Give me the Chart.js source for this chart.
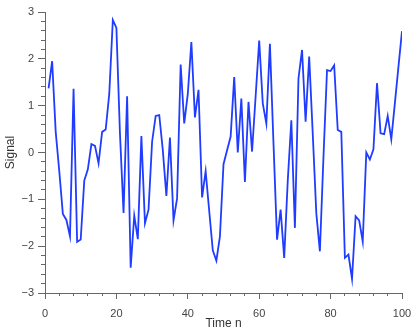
<!DOCTYPE html>
<html>
<head>
<meta charset="utf-8">
<script src="https://cdn.jsdelivr.net/npm/chart.js@4.4.1/dist/chart.umd.min.js"></script>
<style>
  html, body { margin:0; padding:0; background:#fff; }
  #wrap { width:415px; height:332px; position:relative; }
</style>
</head>
<body>
<div id="wrap"><canvas id="chart"></canvas></div>
<script>

// time index n
const timeN = [
  1,2,3,4,5,6,7,8,9,10,
  11,12,13,14,15,16,17,18,19,20,
  21,22,23,24,25,26,27,28,29,30,
  31,32,33,34,35,36,37,38,39,40,
  41,42,43,44,45,46,47,48,49,50,
  51,52,53,54,55,56,57,58,59,60,
  61,62,63,64,65,66,67,68,69,70,
  71,72,73,74,75,76,77,78,79,80,
  81,82,83,84,85,86,87,88,89,90,
  91,92,93,94,95,96,97,98,99,100
];

// signal values
const signal = [
  1.37, 1.95, 0.44, -0.40, -1.31, -1.44, -1.79, 1.36, -1.91, -1.86,
  -0.60, -0.36, 0.18, 0.14, -0.23, 0.44, 0.49, 1.25, 2.83, 2.66,
  0.40, -1.29, 1.20, -2.46, -1.35, -1.85, 0.35, -1.51, -1.22, 0.23,
  0.78, 0.80, 0.05, -0.93, 0.32, -1.45, -0.98, 1.88, 0.62, 1.25,
  2.36, 0.75, 1.34, -0.96, -0.40, -1.25, -2.09, -2.31, -1.79, -0.25,
  0.05, 0.34, 1.61, 0.00, 1.15, -0.63, 1.08, 0.02, 1.20, 2.39,
  1.05, 0.62, 2.32, 0.20, -1.86, -1.22, -2.25, -0.60, 0.69, -1.61,
  1.58, 2.19, 0.66, 2.05, 0.40, -1.30, -2.11, -0.10, 1.76, 1.74,
  1.86, 0.48, 0.44, -2.25, -2.18, -2.70, -1.36, -1.45, -1.90, 0.00,
  -0.15, 0.07, 1.48, 0.41, 0.39, 0.78, 0.28, 1.05, 1.83, 2.59
];

// axis ticks
const xMajor = 20;
const xMinor = 4;
const yMajor = 1;
const yMinor = 0.2;

const axisColor = '#666';
const labelColor = '#444';
const fontFamily = '"Liberation Sans", Arial, sans-serif';

function minus(v){
  return v < 0 ? '\u2212' + Math.abs(v) : String(v);
}

function fixSize(prop, size){
  return function(scale){
    scale[prop] = size;
    scale.paddingLeft = 0;
    scale.paddingRight = 0;
    scale.paddingTop = 0;
    scale.paddingBottom = 0;
  };
}

const points = timeN.map((n,i)=>({ x:n, y:signal[i] }));

new Chart(document.getElementById('chart'), {

  type:'line',

  data:{
    datasets:[{
      data:points,
      borderColor:'#1f3cff',
      borderWidth:1.8,
      pointRadius:0,
      tension:0,
      fill:false
    }]
  },

  options:{
    responsive:true,
    maintainAspectRatio:false,
    animation:false,
    layout:{
      padding:{ top:12, right:13, bottom:0, left:0 }
    },
    plugins:{
      legend:{ display:false },
      tooltip:{ enabled:false }
    },
    scales:{

      x:{
        type:'linear',
        position:'bottom',
        weight:1,
        min:0,
        max:100,
        border:{ display:true, color:axisColor, width:1 },
        grid:{ drawOnChartArea:false, drawTicks:true, tickLength:6, color:axisColor },
        ticks:{
          stepSize:xMajor,
          color:labelColor,
          padding:8,
          font:{ family:fontFamily, size:11 },
          callback:v=>minus(v),
          maxRotation:0,
          autoSkip:false
        },
        title:{
          display:true,
          text:'Time n',
          color:'#333',
          font:{ family:fontFamily, size:12 },
          padding:{ top:0, bottom:1 }
        },
        afterFit:fixSize('height', 39)
      },

      xMinor:{
        type:'linear',
        position:'bottom',
        weight:0,
        min:0,
        max:100,
        border:{ display:false },
        grid:{ drawOnChartArea:false, drawTicks:true, tickLength:3, color:axisColor },
        ticks:{ stepSize:xMinor, display:false, autoSkip:false, maxTicksLimit:100 },
        afterFit:fixSize('height', 0)
      },

      y:{
        type:'linear',
        position:'left',
        weight:1,
        min:-3,
        max:3,
        border:{ display:true, color:axisColor, width:1 },
        grid:{ drawOnChartArea:false, drawTicks:true, tickLength:7, color:axisColor },
        ticks:{
          stepSize:yMajor,
          color:labelColor,
          padding:4,
          font:{ family:fontFamily, size:11 },
          callback:v=>minus(v),
          autoSkip:false
        },
        title:{
          display:true,
          text:'Signal',
          color:'#333',
          font:{ family:fontFamily, size:12 },
          padding:{ top:3, bottom:0 }
        },
        afterFit:fixSize('width', 45)
      },

      yMinor:{
        type:'linear',
        position:'left',
        weight:0,
        min:-3,
        max:3,
        border:{ display:false },
        grid:{ drawOnChartArea:false, drawTicks:true, tickLength:4, color:axisColor },
        ticks:{ stepSize:yMinor, display:false, autoSkip:false, maxTicksLimit:100 },
        afterFit:fixSize('width', 0)
      }

    }
  }

});

</script>
</body>
</html>
